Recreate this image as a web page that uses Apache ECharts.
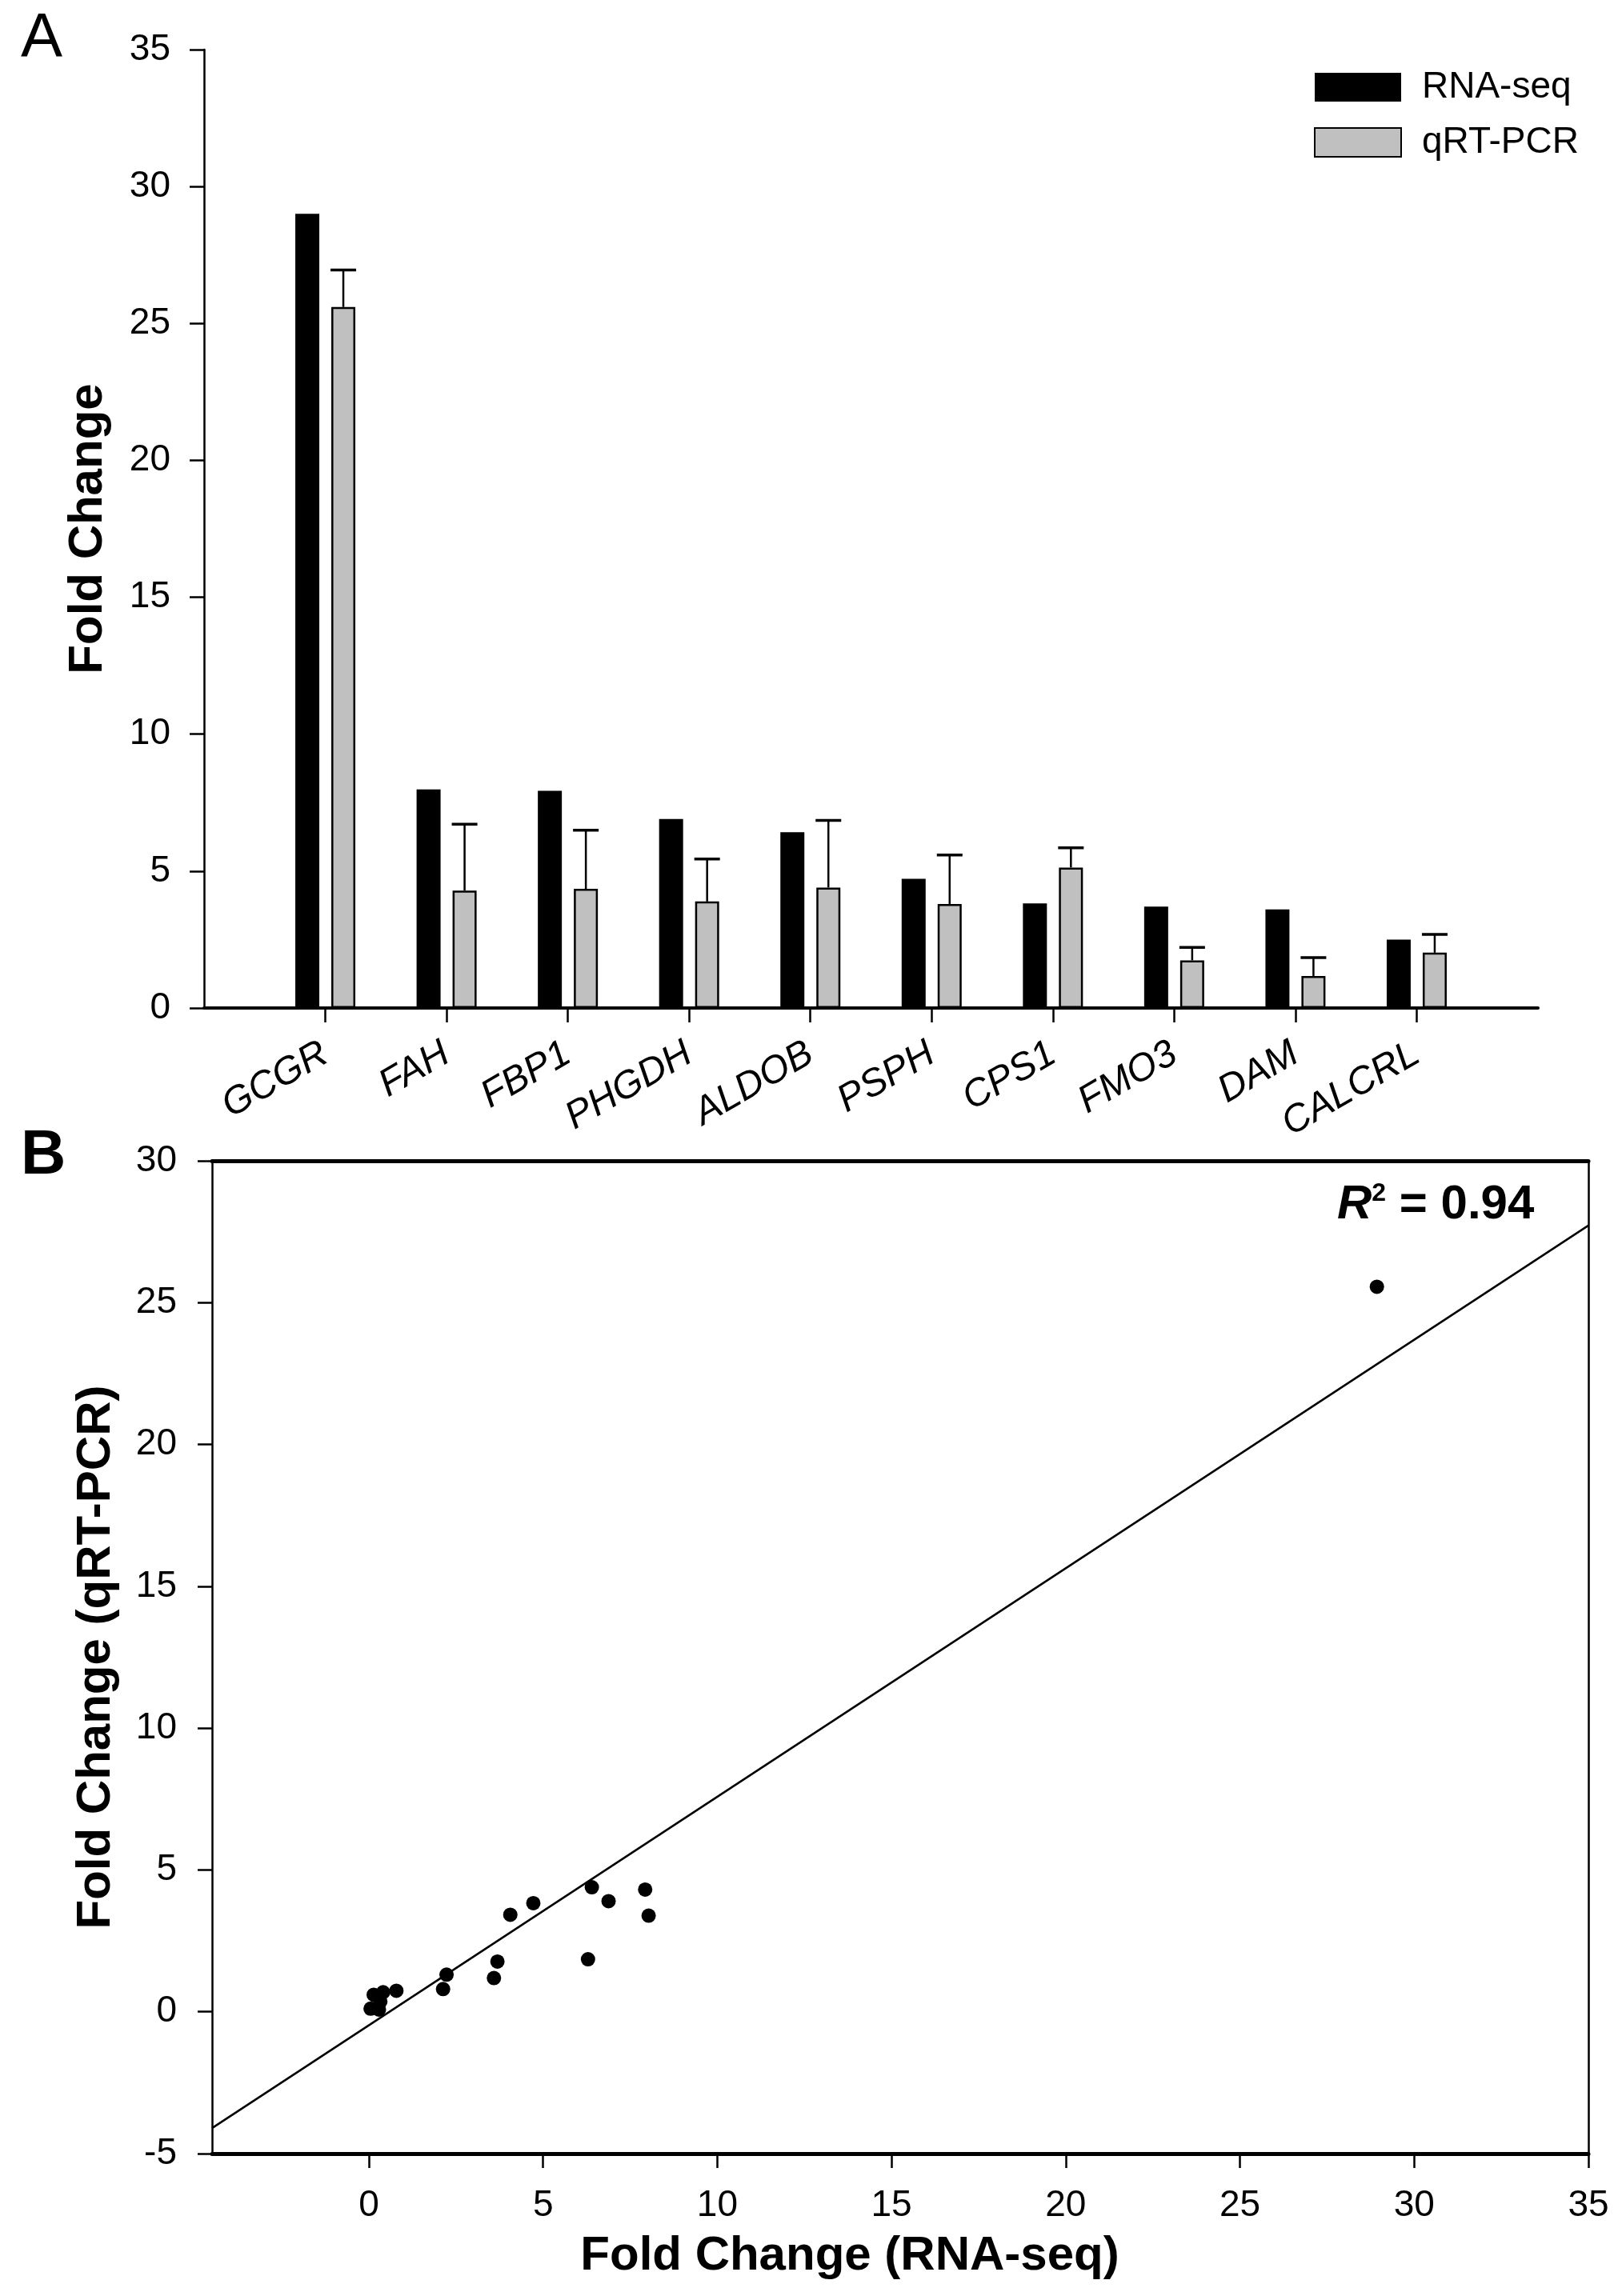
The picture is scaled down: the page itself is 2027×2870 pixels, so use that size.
<!DOCTYPE html>
<html>
<head>
<meta charset="utf-8">
<script src="https://cdn.jsdelivr.net/npm/echarts@6/dist/echarts.min.js"></script>
<style>
  html, body { margin: 0; padding: 0; background: #fff; }
  #chart { width: 2027px; height: 2870px; }
</style>
</head>
<body>
<div id="chart"></div>
<script>
// Panel A - bar chart
const genes = ['GCGR', 'FAH', 'FBP1', 'PHGDH', 'ALDOB', 'PSPH', 'CPS1', 'FMO3', 'DAM', 'CALCRL'];
const rnaSeq = [29.0, 7.98, 7.93, 6.90, 6.42, 4.72, 3.82, 3.70, 3.60, 2.50];
const qrtPcr = [25.6, 4.29, 4.35, 3.89, 4.40, 3.80, 5.13, 1.74, 1.17, 2.02];
const qrtPcrErr = [1.35, 2.42, 2.14, 1.55, 2.45, 1.79, 0.72, 0.47, 0.67, 0.67];
const yTicksA = [0, 5, 10, 15, 20, 25, 30, 35];

// Panel B - correlation scatter
const scatterRnaSeq = [0.05, 0.14, 0.41, 0.29, 0.33, 0.79, 2.13, 2.23, 3.59, 3.69, 4.06, 4.72, 6.29, 6.40, 6.88, 7.93, 8.03, 28.93];
const scatterQrtPcr = [0.11, 0.60, 0.69, 0.08, 0.36, 0.74, 0.80, 1.31, 1.19, 1.77, 3.42, 3.83, 1.85, 4.39, 3.90, 4.31, 3.39, 25.56];
const fitLineX = [-4.5, 35];
const fitLineY = [-4.10, 27.72];
const xTicksB = [0, 5, 10, 15, 20, 25, 30, 35];
const yTicksB = [-5, 0, 5, 10, 15, 20, 25, 30];

const FONT = '"Liberation Sans", Arial, sans-serif';
const BAR_W = 30;
const BAR_GAP = 15;

const chart = echarts.init(document.getElementById('chart'));

// 类别轴两端各留一个空位
const catData = [''].concat(genes, ['']);
const pad = arr => [null].concat(arr, [null]);

const axisLineStyle = w => ({ show: true, onZero: false, lineStyle: { color: '#000', width: w } });
const tickStyle = { show: true, length: 18, lineStyle: { color: '#000', width: 2.5 } };
const labelStyle = { color: '#000', fontSize: 46, fontFamily: FONT };

const option = {
    backgroundColor: '#fff',
    animation: false,
    textStyle: { fontFamily: FONT, color: '#000' },
    title: [
        { text: 'A', left: 26, top: 10, padding: 0,
          textStyle: { fontSize: 78, fontWeight: 'normal', color: '#000', fontFamily: FONT } },
        { text: 'B', left: 26, top: 1406, padding: 0,
          textStyle: { fontSize: 78, fontWeight: 'bold', color: '#000', fontFamily: FONT } },
        { text: '{i|R}{s|2}{n| = 0.94}', left: 1671, top: 1476, padding: 0,
          textStyle: {
              rich: {
                  i: { fontSize: 60, fontWeight: 'bold', fontStyle: 'italic', color: '#000', fontFamily: FONT },
                  s: { fontSize: 32, fontWeight: 'bold', color: '#000', fontFamily: FONT, verticalAlign: 'top' },
                  n: { fontSize: 60, fontWeight: 'bold', color: '#000', fontFamily: FONT }
              }
          } }
    ],
    legend: {
        data: ['RNA-seq', 'qRT-PCR'],
        orient: 'vertical',
        left: 1642,
        top: 86,
        padding: 0,
        itemWidth: 108,
        itemHeight: 36,
        itemGap: 23,
        icon: 'rect',
        textStyle: { fontSize: 46, color: '#000', fontFamily: FONT, lineHeight: 36, padding: [0, 0, 0, 21] }
    },
    grid: [
        { left: 255, top: 62, right: 105, bottom: 1610 },
        { left: 265, top: 1451, right: 42, bottom: 178 }
    ],
    xAxis: [
        {
            gridIndex: 0,
            type: 'category',
            data: catData,
            boundaryGap: false,
            axisLine: axisLineStyle(4),
            axisTick: Object.assign({}, tickStyle, {
                interval: (i) => i > 0 && i <= genes.length
            }),
            axisLabel: Object.assign({}, labelStyle, {
                interval: 0, rotate: 30, fontStyle: 'italic', fontSize: 48, margin: 54
            }),
            splitLine: { show: false }
        },
        {
            gridIndex: 1,
            type: 'value',
            position: 'bottom',
            min: -4.5,
            max: 35,
            axisLine: axisLineStyle(5),
            axisTick: Object.assign({}, tickStyle, { customValues: xTicksB }),
            axisLabel: Object.assign({}, labelStyle, { customValues: xTicksB, margin: 42 }),
            splitLine: { show: false },
            name: 'Fold Change (RNA-seq)',
            nameLocation: 'middle',
            nameGap: 98,
            nameTextStyle: { fontSize: 60, fontWeight: 'bold', color: '#000', fontFamily: FONT, padding: [0, 126, 0, 0] }
        },
        {
            gridIndex: 1,
            type: 'value',
            position: 'top',
            min: -4.5,
            max: 35,
            axisLine: axisLineStyle(5),
            axisTick: { show: false },
            axisLabel: { show: false },
            splitLine: { show: false }
        }
    ],
    yAxis: [
        {
            gridIndex: 0,
            type: 'value',
            min: yTicksA[0],
            max: yTicksA[yTicksA.length - 1],
            interval: yTicksA[1] - yTicksA[0],
            axisLine: axisLineStyle(2.5),
            axisTick: tickStyle,
            axisLabel: Object.assign({}, labelStyle, { margin: 42 }),
            splitLine: { show: false },
            name: 'Fold Change',
            nameLocation: 'middle',
            nameGap: 115,
            nameTextStyle: { fontSize: 60, fontWeight: 'bold', color: '#000', fontFamily: FONT }
        },
        {
            gridIndex: 1,
            type: 'value',
            position: 'left',
            min: yTicksB[0],
            max: yTicksB[yTicksB.length - 1],
            interval: yTicksB[1] - yTicksB[0],
            axisLine: axisLineStyle(2.5),
            axisTick: tickStyle,
            axisLabel: Object.assign({}, labelStyle, { margin: 44 }),
            splitLine: { show: false },
            name: 'Fold Change (qRT-PCR)',
            nameLocation: 'middle',
            nameGap: 115,
            nameTextStyle: { fontSize: 60, fontWeight: 'bold', color: '#000', fontFamily: FONT }
        },
        {
            gridIndex: 1,
            type: 'value',
            position: 'right',
            min: yTicksB[0],
            max: yTicksB[yTicksB.length - 1],
            interval: yTicksB[1] - yTicksB[0],
            axisLine: axisLineStyle(2.5),
            axisTick: { show: false },
            axisLabel: { show: false },
            splitLine: { show: false }
        }
    ],
    series: [
        {
            name: 'RNA-seq',
            type: 'bar',
            xAxisIndex: 0,
            yAxisIndex: 0,
            data: pad(rnaSeq),
            barWidth: BAR_W,
            barGap: (BAR_GAP / BAR_W * 100) + '%',
            itemStyle: { color: '#000' }
        },
        {
            name: 'qRT-PCR',
            type: 'bar',
            xAxisIndex: 0,
            yAxisIndex: 0,
            data: pad(qrtPcr),
            barWidth: BAR_W,
            itemStyle: { color: '#c0c0c0', borderColor: '#000', borderWidth: 2.5 }
        },
        {
            // 误差线（只画上半部分）
            type: 'custom',
            xAxisIndex: 0,
            yAxisIndex: 0,
            z: 5,
            silent: true,
            data: genes.map((g, i) => [i + 1, qrtPcr[i], qrtPcr[i] + qrtPcrErr[i]]),
            renderItem: function(params, api) {
                const base = api.coord([api.value(0), api.value(1)]);
                const top = api.coord([api.value(0), api.value(2)]);
                const x = base[0] + (BAR_W + BAR_GAP) / 2;
                return {
                    type: 'group',
                    children: [
                        { type: 'line', shape: { x1: x, y1: base[1], x2: x, y2: top[1] },
                          style: { stroke: '#000', lineWidth: 2.5 } },
                        { type: 'line', shape: { x1: x - 16, y1: top[1], x2: x + 16, y2: top[1] },
                          style: { stroke: '#000', lineWidth: 3.5 } }
                    ]
                };
            }
        },
        {
            type: 'line',
            xAxisIndex: 1,
            yAxisIndex: 1,
            data: fitLineX.map((x, i) => [x, fitLineY[i]]),
            symbol: 'none',
            silent: true,
            lineStyle: { color: '#000', width: 2.5 },
            z: 2
        },
        {
            type: 'scatter',
            xAxisIndex: 1,
            yAxisIndex: 1,
            data: scatterRnaSeq.map((x, i) => [x, scatterQrtPcr[i]]),
            symbol: 'circle',
            symbolSize: 18,
            itemStyle: { color: '#000', opacity: 1 },
            z: 3
        }
    ]
};

chart.setOption(option);
</script>
</body>
</html>
